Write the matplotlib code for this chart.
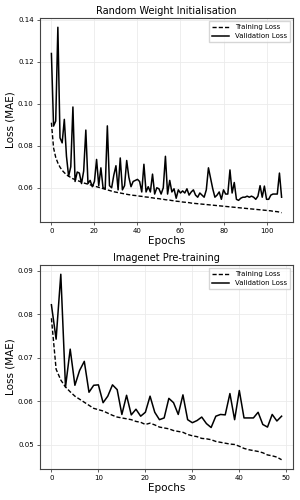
import matplotlib
matplotlib.use('Agg')
import matplotlib.pyplot as plt
import numpy as np

# Random weight initialisation run (108 epochs)
rw_train = [0.0910, 0.0790, 0.0745, 0.0718, 0.0698, 0.0683, 0.0672, 0.0662, 0.0655, 0.0649,
            0.0643, 0.0639, 0.0635, 0.0631, 0.0627, 0.0623, 0.0620, 0.0617, 0.0614, 0.0611,
            0.0608, 0.0605, 0.0602, 0.0599, 0.0596, 0.0593, 0.0590, 0.0587, 0.0584, 0.0581,
            0.0579, 0.0577, 0.0575, 0.0573, 0.0571, 0.0569, 0.0567, 0.0566, 0.0564, 0.0563,
            0.0562, 0.0560, 0.0559, 0.0557, 0.0556, 0.0555, 0.0553, 0.0552, 0.0550, 0.0549,
            0.0548, 0.0546, 0.0545, 0.0543, 0.0542, 0.0541, 0.0539, 0.0538, 0.0536, 0.0535,
            0.0534, 0.0532, 0.0531, 0.0530, 0.0529, 0.0527, 0.0526, 0.0525, 0.0524, 0.0523,
            0.0522, 0.0521, 0.0520, 0.0519, 0.0518, 0.0517, 0.0516, 0.0515, 0.0514, 0.0513,
            0.0512, 0.0511, 0.0510, 0.0509, 0.0508, 0.0507, 0.0506, 0.0505, 0.0504, 0.0503,
            0.0502, 0.0501, 0.0500, 0.0499, 0.0498, 0.0497, 0.0496, 0.0495, 0.0494, 0.0493,
            0.0492, 0.0491, 0.0490, 0.0488, 0.0487, 0.0486, 0.0484, 0.0481]
rw_val = [0.1240, 0.0894, 0.0918, 0.1365, 0.0838, 0.0814, 0.0926, 0.0750, 0.0655, 0.0700,
          0.0985, 0.0630, 0.0675, 0.0670, 0.0620, 0.0680, 0.0875, 0.0620, 0.0635, 0.0605,
          0.0630, 0.0735, 0.0610, 0.0695, 0.0600, 0.0595, 0.0895, 0.0610, 0.0600, 0.0660,
          0.0705, 0.0590, 0.0742, 0.0590, 0.0610, 0.0730, 0.0650, 0.0605, 0.0630, 0.0635,
          0.0640, 0.0630, 0.0580, 0.0712, 0.0580, 0.0605, 0.0580, 0.0665, 0.0570, 0.0600,
          0.0595, 0.0570, 0.0600, 0.0750, 0.0570, 0.0635, 0.0580, 0.0595, 0.0550, 0.0590,
          0.0575, 0.0585, 0.0575, 0.0595, 0.0565, 0.0580, 0.0590, 0.0565, 0.0555, 0.0575,
          0.0565, 0.0555, 0.0590, 0.0695, 0.0645, 0.0595, 0.0555, 0.0565, 0.0580, 0.0545,
          0.0590, 0.0570, 0.0570, 0.0685, 0.0575, 0.0625, 0.0545, 0.0540, 0.0550, 0.0555,
          0.0555, 0.0560, 0.0555, 0.0560, 0.0555, 0.0545, 0.0560, 0.0610, 0.0555, 0.0608,
          0.0545, 0.0545, 0.0565, 0.0570, 0.0570, 0.0570, 0.0670, 0.0555]

# Imagenet pre-training run (50 epochs)
im_train = [0.0791, 0.0674, 0.0649, 0.0633, 0.0622, 0.0612, 0.0605, 0.0598, 0.0591, 0.0584,
            0.0581, 0.0578, 0.0573, 0.0568, 0.0564, 0.0562, 0.0560, 0.0558, 0.0554, 0.0552,
            0.0547, 0.0550, 0.0546, 0.0541, 0.0539, 0.0537, 0.0533, 0.0531, 0.0529, 0.0524,
            0.0521, 0.0519, 0.0515, 0.0514, 0.0512, 0.0508, 0.0506, 0.0504, 0.0502, 0.0501,
            0.0497, 0.0492, 0.0489, 0.0487, 0.0485, 0.0482, 0.0477, 0.0475, 0.0472, 0.0466]
im_val = [0.0822, 0.0743, 0.0892, 0.0633, 0.0720, 0.0637, 0.0671, 0.0692, 0.0621, 0.0637,
          0.0638, 0.0597, 0.0612, 0.0638, 0.0627, 0.0570, 0.0614, 0.0569, 0.0582, 0.0566,
          0.0575, 0.0612, 0.0575, 0.0558, 0.0562, 0.0607, 0.0597, 0.0570, 0.0615, 0.0558,
          0.0551, 0.0556, 0.0564, 0.0549, 0.0540, 0.0566, 0.0570, 0.0569, 0.0618, 0.0558,
          0.0625, 0.0562, 0.0562, 0.0562, 0.0575, 0.0547, 0.0541, 0.0570, 0.0555, 0.0566]

titles = ['Random Weight Initialisation', 'Imagenet Pre-training']

fig = plt.figure(figsize=(3, 5), dpi=100)
ax1 = fig.add_axes([0.133, 0.556, 0.844, 0.408])
ax2 = fig.add_axes([0.133, 0.062, 0.844, 0.408])

for ax, tr, va, title in [(ax1, rw_train, rw_val, titles[0]),
                          (ax2, im_train, im_val, titles[1])]:
    ep = np.arange(len(tr))
    ax.plot(ep, tr, color='black', linestyle='--', linewidth=1.0,
            dashes=(3, 1.5), label='Training Loss')
    ax.plot(ep, va, color='black', linestyle='-', linewidth=1.1, label='Validation Loss')
    ax.grid(True, color='#ebebeb', linewidth=0.6)
    ax.set_axisbelow(True)
    for s in ax.spines.values():
        s.set_color('#444444')
        s.set_linewidth(0.8)
    ax.tick_params(labelsize=5, length=2.5, width=0.6, color='#444444', pad=2)
    ax.set_title(title, fontsize=7, pad=3)
    ax.set_xlabel('Epochs', fontsize=7.5, labelpad=1)
    ax.set_ylabel('Loss (MAE)', fontsize=7.5, labelpad=2)
    ax.legend(loc='upper right', fontsize=5, frameon=True, fancybox=False,
              edgecolor='#cccccc', handlelength=2.5, borderpad=0.4, labelspacing=0.4)

ax1.set_yticks([0.06, 0.08, 0.10, 0.12, 0.14])
ax2.set_yticks([0.05, 0.06, 0.07, 0.08, 0.09])

fig.savefig('out.png', dpi=100)
